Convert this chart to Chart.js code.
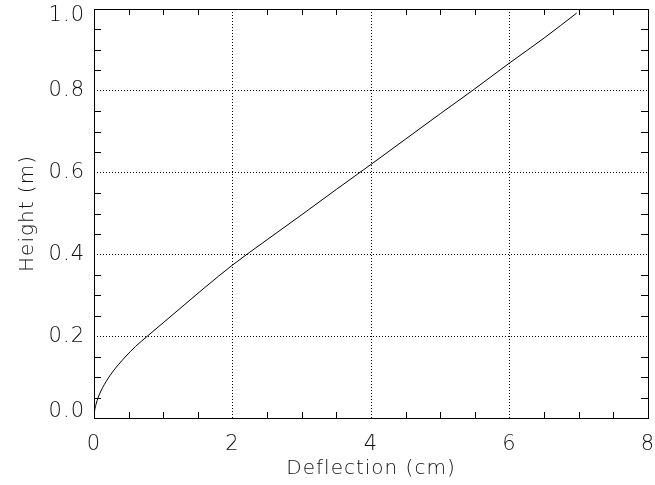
<!DOCTYPE html>
<html>
<head>
<meta charset="utf-8">
<script src="https://cdn.jsdelivr.net/npm/chart.js@4/dist/chart.umd.min.js"></script>
<style>
  html, body { margin: 0; padding: 0; background: #fff; }
</style>
</head>
<body>
<canvas id="myChart" width="655" height="485"></canvas>
<script>
// values
const deflection = [0, 0.003, 0.01, 0.03, 0.06, 0.1, 0.15, 0.2, 0.27, 0.35, 0.45, 0.6, 0.77, 1.0, 1.3, 1.6, 2.0, 2.5, 3.0, 3.5, 4.0, 4.5, 5.0, 5.46, 6.0, 6.5, 6.97];
const height = [0, 0.0097, 0.019, 0.034, 0.05, 0.066, 0.082, 0.096, 0.113, 0.13, 0.149, 0.175, 0.2, 0.233, 0.276, 0.319, 0.374, 0.436, 0.497, 0.559, 0.62, 0.682, 0.744, 0.8, 0.868, 0.929, 0.99];

const xTicks = [0, 2, 4, 6, 8];
const yTicks = [0, 0.2, 0.4, 0.6, 0.8, 1.0];
const xMinorStep = 0.5;
const yMinorStep = 0.05;

const points = deflection.map((d, i) => ({ x: d, y: height[i] }));

const FONT = "'DejaVu Sans', sans-serif";
const TEXT = '#111';

// grid only at inner major ticks, dotted
const gridColor = (ctx) => {
  const v = ctx.tick ? ctx.tick.value : null;
  const s = ctx.scale;
  if (v === null || v <= s.min + 1e-9 || v >= s.max - 1e-9) return 'rgba(0,0,0,0)';
  return '#000';
};

// wide letter spacing like the plot's stroke font
const spacingPlugin = {
  id: 'spacing',
  beforeDraw(chart) { chart.ctx.letterSpacing = '1px'; }
};

// frame + inward minor ticks on all four sides
const framePlugin = {
  id: 'frame',
  afterDatasetsDraw(chart) {
    const { ctx, chartArea: a, scales: { x, y } } = chart;
    ctx.save();
    ctx.strokeStyle = '#000';
    ctx.lineWidth = 1;
    ctx.beginPath();
    for (let v = x.min + xMinorStep; v < x.max - 1e-9; v += xMinorStep) {
      if (Math.abs(v / 2 - Math.round(v / 2)) < 1e-6) continue;
      const px = Math.round(x.getPixelForValue(v)) + 0.5;
      ctx.moveTo(px, a.bottom); ctx.lineTo(px, a.bottom - 6);
      ctx.moveTo(px, a.top); ctx.lineTo(px, a.top + 6);
    }
    for (let v = y.min + yMinorStep; v < y.max - 1e-9; v += yMinorStep) {
      if (Math.abs(v / 0.2 - Math.round(v / 0.2)) < 1e-6) continue;
      const py = Math.round(y.getPixelForValue(v)) + 0.5;
      ctx.moveTo(a.left, py); ctx.lineTo(a.left + 7, py);
      ctx.moveTo(a.right, py); ctx.lineTo(a.right - 7, py);
    }
    ctx.stroke();
    ctx.strokeRect(Math.round(a.left) + 0.5, Math.round(a.top) + 0.5,
      Math.round(a.right - a.left), Math.round(a.bottom - a.top));
    ctx.restore();
  }
};

// end labels on the y axis sit inside the plot height (top one lower, bottom one higher)
const yLabel = (v, i, ticks) => {
  const s = Number(v).toFixed(1);
  if (i === ticks.length - 1) return ['', s];
  if (i === 0) return [s, ''];
  return s;
};
const yFont = (ctx) => {
  const f = { family: FONT, size: 21, weight: 200 };
  if (!ctx.tick) return f;
  if (ctx.tick.value >= 1 - 1e-9) f.lineHeight = '14px';
  else if (ctx.tick.value <= 1e-9) f.lineHeight = '12px';
  return f;
};

new Chart(document.getElementById('myChart'), {
  type: 'line',
  data: {
    datasets: [{
      data: points,
      borderColor: '#000',
      borderWidth: 1,
      pointRadius: 0,
      fill: false,
      cubicInterpolationMode: 'monotone'
    }]
  },
  options: {
    responsive: false,
    animation: false,
    layout: { padding: { top: 9, right: 7, left: 0, bottom: 0 } },
    plugins: { legend: { display: false }, tooltip: { enabled: false } },
    scales: {
      x: {
        type: 'linear',
        min: 0,
        max: 8,
        afterBuildTicks: (s) => { s.ticks = xTicks.map(v => ({ value: v })); },
        afterFit: (s) => { s.height = 67; s.paddingLeft = 0; s.paddingRight = 0; },
        grid: { color: gridColor, lineWidth: 1, drawTicks: false },
        border: { display: false, dash: [1, 2] },
        ticks: {
          padding: 14,
          maxRotation: 0,
          color: TEXT,
          font: { family: FONT, size: 21, weight: 200 },
          callback: (v) => String(v)
        },
        title: {
          display: true,
          text: 'Deflection (cm)',
          color: TEXT,
          font: { family: FONT, size: 20, weight: 200 },
          padding: { top: 0, bottom: 4 }
        }
      },
      y: {
        type: 'linear',
        min: 0,
        max: 1,
        afterBuildTicks: (s) => { s.ticks = yTicks.map(v => ({ value: v })); },
        afterFit: (s) => { s.width = 94; s.paddingTop = 0; s.paddingBottom = 0; },
        grid: { color: gridColor, lineWidth: 1, drawTicks: false },
        border: { display: false, dash: [1, 2] },
        ticks: {
          padding: 9,
          color: TEXT,
          font: yFont,
          callback: yLabel
        },
        title: {
          display: true,
          text: 'Height (m)',
          color: TEXT,
          font: { family: FONT, size: 20, weight: 200 },
          padding: { top: 16, bottom: 0 }
        }
      }
    }
  },
  plugins: [spacingPlugin, framePlugin]
});
</script>
</body>
</html>
